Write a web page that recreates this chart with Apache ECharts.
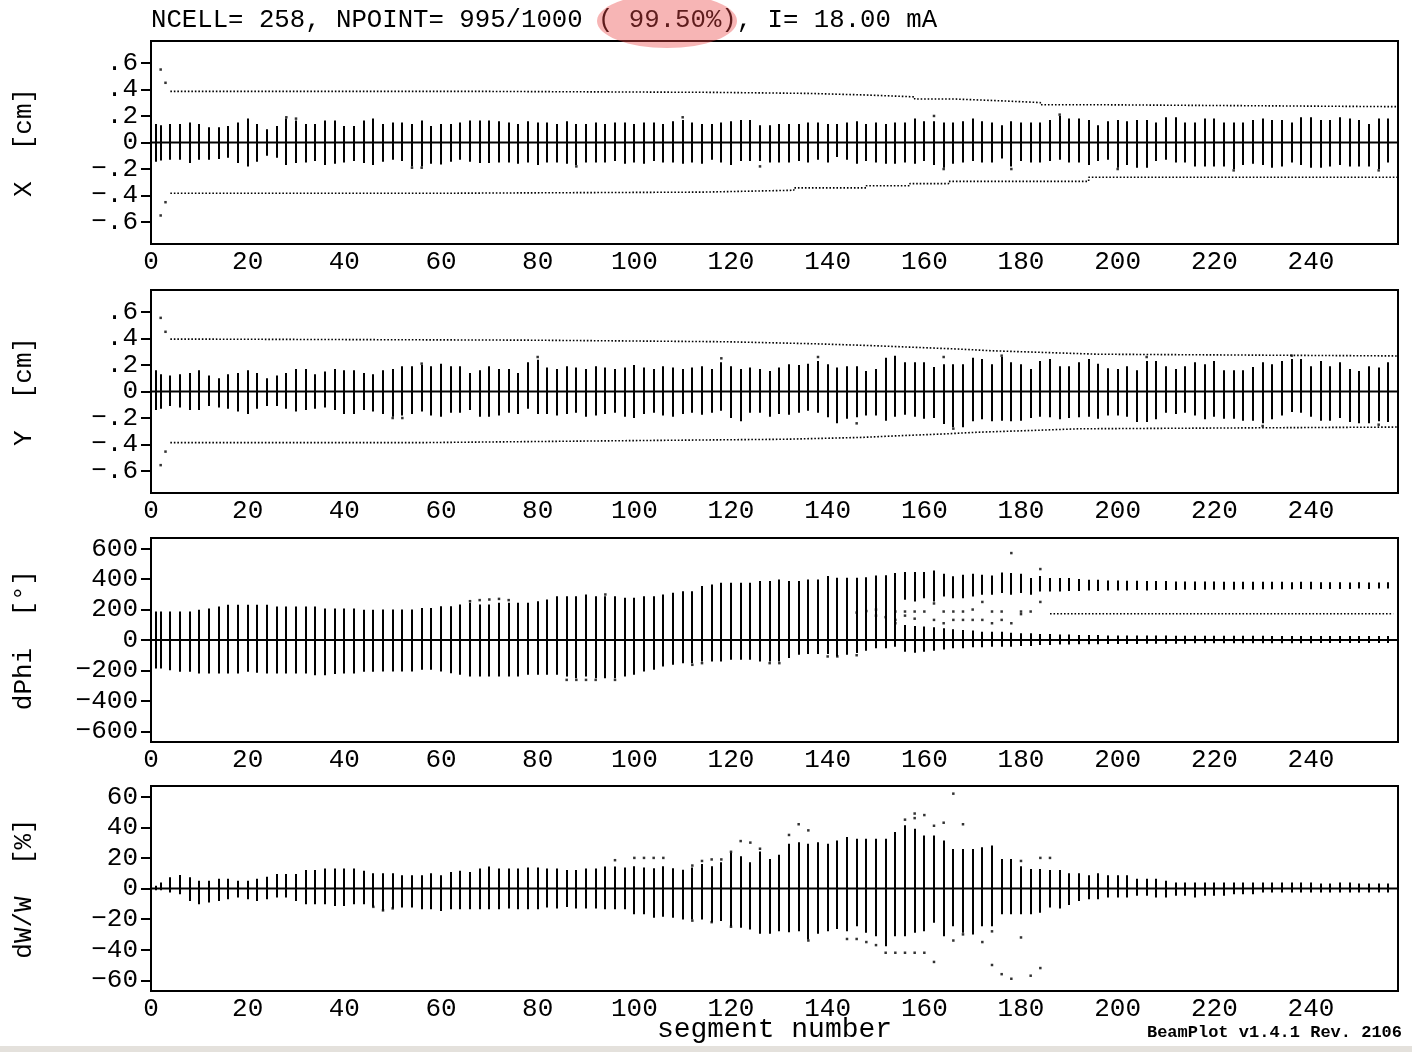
<!DOCTYPE html>
<html><head><meta charset="utf-8">
<script src="https://cdn.jsdelivr.net/npm/echarts@6/dist/echarts.min.js"></script>
<style>html,body{margin:0;padding:0;background:#fff}#c{width:1412px;height:1052px}</style>
</head><body><div id="c"></div><script>
// ---------- data ----------
const segs = [1,2,4,6,8,10,12,14,16,18,20,22,24,26,28,30,32,34,36,38,40,42,44,46,48,50,52,54,56,58,60,62,64,66,68,70,
72,74,76,78,80,82,84,86,88,90,92,94,96,98,100,102,104,106,108,110,112,114,116,118,120,122,124,126,128,130,132,134,136,138,140,
142,144,146,148,150,152,154,156,158,160,162,164,166,168,170,172,174,176,178,180,182,184,186,188,190,192,194,196,198,200,202,204,
206,208,210,212,214,216,218,220,222,224,226,228,230,232,234,236,238,240,242,244,246,248,250,252,254,256];

const xHi = [0.14,0.13,0.14,0.14,0.15,0.14,0.115,0.115,0.125,0.15,0.18,0.14,0.10,0.125,0.18,0.165,0.14,0.14,0.165,0.165,0.125,0.125,0.165,0.18,0.14,0.15,0.15,0.14,0.165,0.125,0.14,0.14,0.15,0.165,0.165,0.165,
0.16,
0.15,0.14,0.16,0.15,0.15,0.14,0.16,0.14,0.14,0.15, 0.14,0.15,0.15,0.14,0.15,0.15,0.14,0.16,0.17,0.15, 0.14,0.14,0.15,0.16,0.17,0.17,0.13,0.13,0.14,0.14, 0.14,0.15,0.15,0.14,0.14,0.15,0.16,0.14,0.15,0.14, 0.15,0.15,0.18,0.16,0.16,0.15,0.15,0.16,0.18,0.16, 0.15,
0.13,0.16,0.15,0.15,0.15,0.17,0.20,0.18,0.18,0.17, 0.13,0.16,0.17,0.16,0.17,0.17,0.15,0.19,0.19,0.15, 0.15,0.18,0.18,0.15,0.15,0.15,0.17,0.18,0.17,0.17, 0.15,0.19,0.19,0.17,0.17,0.19,0.18,0.17,0.14,0.18, 0.18];
const xLo = [-0.145,-0.135,-0.13,-0.13,-0.155,-0.13,-0.13,-0.125,-0.115,-0.155,-0.18,-0.145,-0.10,-0.115,-0.17,-0.155,-0.15,-0.14,-0.17,-0.16,-0.15,-0.14,-0.155,-0.17,-0.145,-0.13,-0.14,-0.18,-0.18,-0.16,-0.165,-0.145,-0.13,-0.145,-0.155,-0.155,
-0.15,
-0.15,-0.16,-0.15,-0.17,-0.15,-0.15,-0.16,-0.17,-0.15,-0.15, -0.15,-0.14,-0.16,-0.15,-0.16,-0.14,-0.15,-0.15,-0.16,-0.15, -0.16,-0.13,-0.15,-0.17,-0.14,-0.14,-0.14,-0.15,-0.15,-0.15, -0.14,-0.15,-0.13,-0.15,-0.11,-0.13,-0.16,-0.14,-0.15,-0.16, -0.16,-0.15,-0.16,-0.14,-0.17,-0.19,-0.16,-0.15,-0.14,-0.15, -0.15,
-0.12,-0.18,-0.14,-0.15,-0.15,-0.14,-0.13,-0.15,-0.15,-0.17, -0.14,-0.13,-0.19,-0.17,-0.19,-0.19,-0.14,-0.13,-0.15,-0.15, -0.18,-0.18,-0.18,-0.18,-0.2,-0.17,-0.16,-0.17,-0.19,-0.18, -0.15,-0.17,-0.19,-0.19,-0.18,-0.17,-0.18,-0.18,-0.18,-0.2, -0.15];

const yHi = [0.16,0.13,0.12,0.13,0.14,0.16,0.12,0.10,0.13,0.14, 0.16,0.14,0.10,0.12,0.14,0.17,0.17,0.13,0.15,0.17, 0.16,0.16,0.14,0.13,0.16,0.17,0.19,0.19,0.2,0.19, 0.21,0.19,0.19,0.14,0.16,0.19,0.17,0.17,0.14,0.22, 0.24,
0.18,0.17,0.19,0.18,0.17,0.19,0.18,0.17,0.18,0.2,0.18,0.17,0.19,0.18,0.17,0.18,
0.19,0.17,0.22,0.19,0.17,0.18,0.17,0.155,0.18,0.205, 0.2,0.21,0.23,0.205,0.18,0.19,0.19,0.155,0.17,0.255, 0.27,0.22,0.22,0.22,0.185,0.205,0.205,0.205,0.255,0.245, 0.205,0.26,0.22,0.205,0.17,0.23,0.245,0.19,0.19,0.22, 0.245,0.21,0.175,0.17,0.19,0.16,0.23,0.23,0.19,0.17, 0.19,0.22,0.205,0.23,0.16,0.16,0.16,0.185,0.22,0.205, 0.23,0.245,0.245,0.19,0.23,0.19,0.22,0.17,0.155,0.19, 0.18,0.22];
const yLo = [-0.14,-0.13,-0.11,-0.12,-0.14,-0.14,-0.11,-0.12,-0.13,-0.15, -0.17,-0.13,-0.11,-0.11,-0.13,-0.15,-0.14,-0.13,-0.12,-0.14, -0.17,-0.17,-0.14,-0.15,-0.17,-0.19,-0.18,-0.17,-0.15,-0.18, -0.19,-0.16,-0.16,-0.14,-0.19,-0.19,-0.18,-0.16,-0.17,-0.13, -0.17,
-0.17,-0.18,-0.17,-0.16,-0.19,-0.18,-0.17,-0.16,-0.19,-0.2,-0.17,-0.16,-0.18,-0.19,-0.17,-0.16,
-0.175,-0.16,-0.145,-0.2,-0.225,-0.16,-0.16,-0.19,-0.17,-0.175, -0.16,-0.145,-0.16,-0.195,-0.24,-0.205,-0.195,-0.18,-0.18,-0.22, -0.19,-0.175,-0.19,-0.205,-0.2,-0.245,-0.27,-0.27,-0.225,-0.21, -0.225,-0.22,-0.225,-0.22,-0.2,-0.19,-0.195,-0.21,-0.2,-0.195, -0.19,-0.205,-0.18,-0.18,-0.19,-0.23,-0.23,-0.21,-0.16,-0.17, -0.16,-0.18,-0.21,-0.19,-0.205,-0.205,-0.22,-0.22,-0.24,-0.21, -0.18,-0.155,-0.16,-0.19,-0.22,-0.22,-0.2,-0.23,-0.24,-0.24, -0.225,-0.23];

// dPhi: main (upper) segment and, once the bunch splits, a lower core segment
const phiHi = [187,187,187,187,187,198,207,220,231,231, 231,231,231,220,220,220,220,220,207,207, 207,207,198,198,
200,200,200,200,211,211,222,222,233,244, 233,233,244,244,244,244,255,266,288,288, 288,299,288,288,288,277,277,288,288,299, 310,321,321,354,365,376,376,376,376,387, 387,398,387,387,398,398,420,409,409,409,
413,424,426,440,446,446,446,457,435,418, 429,435,429,424,444,440,435,407,420,407, 407,407,400,396,396,391,391,389,389,387, 387,387,385,385,385,385,385,383,383,383, 383,383,383,383,380,383,383,380,380,380, 378,380,378,378,380];
const phiLo = [-187,-187,-198,-209,-209,-220,-220,-220,-220,-220, -209,-215,-220,-220,-220,-220,-220,-231,-231,-224, -220,-220,-209,-209,
-207,-207,-207,-207,-196,-196,-207,-218,-229,-240, -240,-240,-240,-240,-240,-229,-229,-229,-229,-240, -251,-240,-251,-251,-251,-240,-229,-207,-196,-174, -163,-152,-152,-141,-141,-141,-130,-130,-130,-141, -141,-141,-119,-97,-92,-92,-92,-108,-97,-86,
-70,-55,-55,-44,264,253,275,253,286,275, 275,286,297,297,308,297,308,297,319,319, 319,322,322,325,322,325,325,325,328,325, 328,328,328,330,328,330,330,330,330,333, 330,333,333,333,333,335,333,335,335,335, 335,338,335,338,338];
const phiCoreSegs = [156,158,160,162,164,166,168,170,172,174,176,178,180,182,184,186,188,190,192,194,196,198,200,202,204,206,208,210,212,214,216,218,220,222,224,226,228,230,232,234,236,238,240,242,244,246,248,250,252,254,256];
const phiCoreHi = [99,92,88,84,77,70,66,62,55,55, 55,48,44,44,40,40,36,36,33,33, 33,30,30,30,30,30,30,30,28,28, 28,28,28,28,28,28,28,28,26,26, 26,26,26,26,26,26,26,26,26,26, 26];
const phiCoreLo = [-77,-84,-77,-70,-62,-55,-55,-48,-48,-44, -44,-44,-40,-40,-33,-33,-30,-30,-28,-28, -28,-26,-26,-26,-26,-24,-24,-24,-24,-24, -22,-22,-22,-22,-22,-22,-22,-22,-22,-22, -22,-22,-22,-20,-20,-20,-20,-20,-20,-20, -20];

const dwHi = [1.8,4,7.3,8.8,7.3,5,5,6.4,6.4,5, 5,6.4,7.7,9.5,9.5,9.5,12.1,12.1,13,13, 13,13,11.6,9.9,9.9,9.9,8.6,8.6,8.6,9.9, 8.6,10.8,11.6,10.8,13,14.3,13,13,13,13.8, 13.8,13,13,12.1,12.1,13,13,14.3,14.3,
13.8,14.5,13.8,13.2,14.5,13.2,12.3,13.8,16,14.5, 17.1,23.3,21.1,17.1,24.2,19.3,22,29.2,30.3,29.2, 30.3,29.2,31.4,33.6,32.5,32.5,32.5,32.5,36.9,41.3, 39.1,34.7,34.7,31.4,25.9,25.9,25.9,27,28.1,19.3, 19.3,14.5,12.7,12.7,
12.1,12.1,9.9,9.9,8.6,9.9,8.6,8.6,8.6,6.4, 6.4,6.4,5,4,4,4,4,4,4,4, 4,4,4,4,4,4,4,4,3.3,3.3, 4,4,3.3,3.3,3.3,3.3];
const dwLo = [-1.1,-1.1,-2.6,-3.7,-8.1,-10.3,-9.2,-8.1,-7,-5.9, -7,-8.1,-7,-5.9,-5.9,-8.1,-10.3,-10.3,-10.3,-11.4, -11.4,-10.3,-10.3,-12,-14.3,-13,-12.5,-12.5,-13.6,-13.6, -14.7,-13.6,-13.6,-13.6,-13.6,-13.6,-13.6,-13,-13.6,-13.6, -13.6,-12.5,-13,-12.1,-13,-13,-13,-13.6,-13.6,
-13.6,-16.9,-16.9,-19.1,-18.5,-19.1,-20.2,-20.2,-20.2,-22, -21.3,-24.6,-25.7,-26.8,-29.5,-29.5,-27.9,-28.6,-27.9,-33.4, -29.5,-27.9,-26.4,-27.9,-24.6,-29,-31.2,-37.8,-31.2,-31.2, -29,-27.9,-22.4,-31.2,-24.6,-29,-30.1,-24.6,-24.6,-16.9, -16.9,-16.9,-16.9,-15.8,
-12.5,-13,-10.8,-8.1,-7,-7,-5.9,-5.9,-5.9,-4.8, -4.8,-5.9,-5.9,-4.8,-4.8,-5.9,-4.8,-4.8,-4.8,-3.7, -3.7,-3.7,-2.6,-2.6,-2.6,-2.6,-2.6,-2.6,-2.6,-2.6, -2.6,-2.6,-2.6,-2.6,-2.6,-2.6];

// isolated particles
const xDots = [[2,0.55],[3,0.45],[2,-0.55],[3,-0.45],[28,0.19],[30,0.18],[54,-0.19],[56,-0.19],[88,-0.18],[110,0.19],[126,-0.18],[162,0.2],[164,-0.2],[178,-0.2],[188,0.21],[200,-0.2],[224,-0.21],[254,-0.21]];
const yDots = [[2,0.555],[3,0.45],[2,-0.555],[3,-0.453],[50,-0.2],[52,-0.2],[56,0.21],[80,0.26],[118,0.25],[138,0.26],[146,-0.24],[164,0.26],[166,-0.28],[176,0.27],[206,0.26],[230,-0.26],[236,0.27],[254,-0.25]];
const phiDots = [[66,255],[68,262],[70,266],[72,270],[74,262],[86,-262],[88,-262],[90,-262],[92,-262],[94,299],[96,-262],[112,-163],[114,-152],[128,-152],[130,-152],[140,-108],[142,-108],[146,-100],[146,180],[148,190],[150,160],[150,200],[152,150],[154,187],[154,132],[154,110],[156,160],[156,187],[158,187],[158,140],[160,187],[162,240],[162,132],[164,187],[164,110],[166,187],[166,132],[168,187],[168,132],[170,200],[170,132],[172,132],[172,250],[174,187],[174,110],[176,187],[176,132],[178,110],[178,571],[180,187],[180,170],[182,187],[184,466],[184,250]];
const phiStray = [[186,172],[257,172]];
const dwDots = [[166,62],[158,49],[160,48],[158,46],[162,41],[164,43],[168,42],[156,45],[134,42],[136,38],[132,35],[122,31],[124,30],[120,24],[126,26],[100,20],[102,20],[104,20],[106,20],[96,18.5],[186,20],[184,20],[180,18],[112,15],[114,18],[116,19],[118,19],
[162,-48],[174,-50],[176,-56],[178,-59],[182,-57],[184,-52],[180,-32],[152,-42],[154,-42],[156,-42],[158,-42],[160,-42],[150,-37],[148,-35],[146,-33],[144,-33],[136,-34],[172,-35],[166,-34],[168,-30],[174,-28],[46,-12],[48,-14.3],[50,-13],[112,-21],[116,-22],[120,-25]];

// beam envelopes (step breakpoints: [segment, extent])
const xEnvUp = [[4,0.385],[70,0.378],[116,0.37],[136,0.358],[148,0.344],[158,0.328],[166,0.314],[176,0.301],[184,0.285],[194,0.27],[258,0.27]];
const xEnvDn = [[4,-0.382],[63,-0.374],[114,-0.36],[133,-0.342],[148,-0.326],[157,-0.31],[165,-0.293],[194,-0.262],[258,-0.262]];
const yEnvUp = [[4,0.395],[8,0.387],[78,0.375],[119,0.36],[137,0.346],[149,0.333],[158,0.32],[167,0.307],[174,0.294],[185,0.281],[196,0.268],[258,0.268]];
const yEnvDn = [[4,-0.385],[57,-0.37],[100,-0.36],[131,-0.346],[147,-0.333],[155,-0.32],[164,-0.307],[171,-0.294],[182,-0.281],[192,-0.268],[258,-0.268]];

// ticks
const xTickValues = [0,20,40,60,80,100,120,140,160,180,200,220,240];
const xTickLabels = ['0','20','40','60','80','100','120','140','160','180','200','220','240'];
const cmTickValues = [-0.6,-0.4,-0.2,0,0.2,0.4,0.6];
const cmTickLabels = ['\u2212.6','\u2212.4','\u2212.2','0','.2','.4','.6'];
const phiTickValues = [-600,-400,-200,0,200,400,600];
const phiTickLabels = ['\u2212600','\u2212400','\u2212200','0','200','400','600'];
const dwTickValues = [-60,-40,-20,0,20,40,60];
const dwTickLabels = ['\u221260','\u221240','\u221220','0','20','40','60'];

const titleText = 'NCELL= 258, NPOINT= 995/1000 ( 99.50%), I= 18.00 mA';
const panelNames = ['X  [cm]','Y  [cm]','dPhi  [\u00b0]','dW/W  [%]'];
const xAxisName = 'segment number';

// ---------- chart ----------
const FONT = '"Liberation Mono", "DejaVu Sans Mono", monospace';
const panels = [
  {top:41, height:203, lim:0.765, tv:cmTickValues, tl:cmTickLabels},
  {top:290, height:203, lim:0.765, tv:cmTickValues, tl:cmTickLabels},
  {top:538, height:204, lim:670, tv:phiTickValues, tl:phiTickLabels},
  {top:786, height:205, lim:67, tv:dwTickValues, tl:dwTickLabels}
];
const lab = (vals, labels) => v => { const i = vals.findIndex(t => Math.abs(t - v) < 1e-9); return i >= 0 ? labels[i] : ''; };

const grids = [], xAxes = [], yAxes = [], series = [];
panels.forEach((p, i) => {
  grids.push({left:151, width:1247, top:p.top, height:p.height, show:true, borderColor:'#000', borderWidth:2, backgroundColor:'transparent'});
  xAxes.push({gridIndex:i, type:'value', min:0, max:258,
    axisLine:{show:false}, axisTick:{show:false}, splitLine:{show:false},
    axisLabel:{customValues:xTickValues, formatter:lab(xTickValues, xTickLabels), fontFamily:FONT, fontSize:26, color:'#000', margin:5}});
  yAxes.push({gridIndex:i, type:'value', min:-p.lim, max:p.lim,
    axisLine:{show:false}, splitLine:{show:false},
    axisTick:{show:true, customValues:p.tv, length:10, inside:false, lineStyle:{color:'#000', width:2}},
    axisLabel:{customValues:p.tv, formatter:lab(p.tv, p.tl), fontFamily:FONT, fontSize:26, color:'#000', margin:13},
    name:panelNames[i], nameLocation:'middle', nameRotate:90, nameGap:114,
    nameTextStyle:{fontFamily:FONT, fontSize:26, color:'#000'}});
});

function rangeBars(gi, xs, his, los) {
  const data = [];
  xs.forEach((s, k) => { if (his[k] != null && los[k] != null) data.push([s, los[k], his[k]]); });
  return {type:'custom', xAxisIndex:gi, yAxisIndex:gi, silent:true, animation:false, clip:true,
    data, encode:{x:0, y:[1,2]},
    renderItem(params, api) {
      const a = api.coord([api.value(0), api.value(1)]);
      const b = api.coord([api.value(0), api.value(2)]);
      const x = Math.round(a[0]);
      return {type:'line', shape:{x1:x, y1:a[1], x2:x, y2:b[1]}, style:{stroke:'#000', lineWidth:2}};
    }};
}
function zeroLine(gi) {
  return {type:'line', xAxisIndex:gi, yAxisIndex:gi, data:[[0,0],[258,0]], symbol:'none', silent:true, animation:false,
    lineStyle:{color:'#000', width:2}, z:3};
}
function dots(gi, pts) {
  return {type:'scatter', xAxisIndex:gi, yAxisIndex:gi, data:pts, symbol:'rect', symbolSize:2.5, silent:true, animation:false,
    itemStyle:{color:'#000'}};
}
function dotted(gi, pts, step) {
  return {type:'line', xAxisIndex:gi, yAxisIndex:gi, data:pts, step:step, symbol:'none', silent:true, animation:false,
    lineStyle:{color:'#000', width:1.6, type:[1.6, 1.9]}};
}

series.push(rangeBars(0, segs, xHi, xLo), zeroLine(0), dots(0, xDots), dotted(0, xEnvUp, 'end'), dotted(0, xEnvDn, 'end'));
series.push(rangeBars(1, segs, yHi, yLo), zeroLine(1), dots(1, yDots), dotted(1, yEnvUp, 'end'), dotted(1, yEnvDn, 'end'));
series.push(rangeBars(2, segs, phiHi, phiLo), rangeBars(2, phiCoreSegs, phiCoreHi, phiCoreLo), zeroLine(2), dots(2, phiDots), dotted(2, phiStray, false));
series.push(rangeBars(3, segs, dwHi, dwLo), zeroLine(3), dots(3, dwDots));

const chart = echarts.init(document.getElementById('c'), null, {renderer:'canvas'});
chart.setOption({
  backgroundColor:'#fff',
  animation:false,
  grid:grids, xAxis:xAxes, yAxis:yAxes, series,
  graphic:[
    {type:'text', left:151, top:7, z:10, style:{text:titleText, font:'25.7px ' + FONT, fill:'#000'}},
    {type:'ellipse', z:20, shape:{cx:667, cy:21, rx:70, ry:27}, style:{fill:'rgba(235,70,70,0.4)'}},
    {type:'text', x:774.5, y:1030, z:10, style:{text:xAxisName, font:'28px ' + FONT, fill:'#000', align:'center', verticalAlign:'middle'}},
    {type:'text', right:10, top:1024, z:10, style:{text:'BeamPlot v1.4.1 Rev. 2106', font:'bold 17px ' + FONT, fill:'#000'}},
    {type:'rect', left:0, top:1046, z:5, shape:{width:1412, height:6}, style:{fill:'#e4e1dc'}}
  ]
});
</script></body></html>
